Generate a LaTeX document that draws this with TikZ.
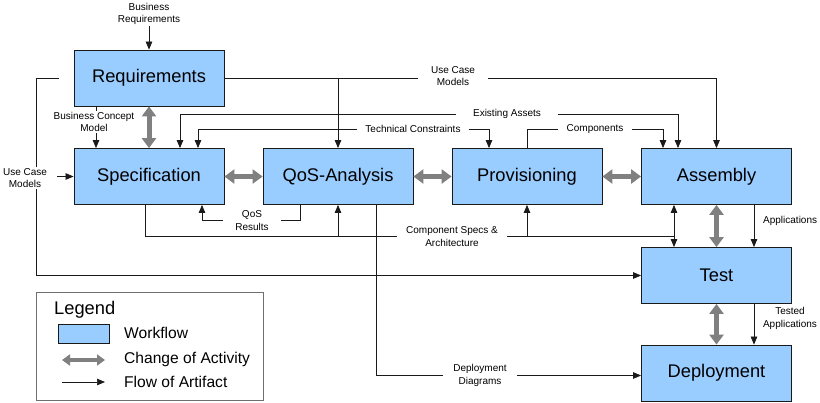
\documentclass[tikz,border=0pt]{standalone}
\usepackage{fontspec}
\setmainfont{Liberation Sans}
\usetikzlibrary{arrows.meta}
\definecolor{boxblue}{HTML}{99CCFF}
\definecolor{chg}{HTML}{808080}
\definecolor{ln}{HTML}{1A1A1A}
\definecolor{legline}{HTML}{707070}
\begin{document}
\begin{tikzpicture}[x=1pt,y=-1pt,
  wf/.style={draw=ln, fill=boxblue, line width=0.8pt, minimum width=150pt, minimum height=56pt, inner sep=0pt, font=\fontsize{18.3}{20}\selectfont},
  chgarrow/.style={draw=chg, line width=5pt, {Triangle[length=10pt,width=14pt]}-{Triangle[length=10pt,width=14pt]}},
  flow/.style={draw=ln, line width=0.7pt, -{Triangle[length=8pt,width=6.5pt]}},
  plain/.style={draw=ln, line width=0.7pt},
  lbl/.style={fill=white, inner ysep=1pt, inner xsep=10pt, align=center, font=\fontsize{10}{12.5}\selectfont},
]
\useasboundingbox (0,0) rectangle (820,402);

% workflow boxes
\node[wf] (req)  at (149,78)    {Requirements};
\node[wf] (spec) at (149,176.5) {Specification};
\node[wf] (qos)  at (338,176.5) {QoS-Analysis};
\node[wf] (prov) at (527,176.5) {Provisioning};
\node[wf] (asm)  at (716.5,176.5) {Assembly};
\node[wf] (test) at (716.5,275.5) {Test};
\node[wf] (dep)  at (716.5,373) {Deployment};

% change of activity
\draw[chgarrow] (req.south) -- (spec.north);
\draw[chgarrow] (spec.east) -- (qos.west);
\draw[chgarrow] (qos.east) -- (prov.west);
\draw[chgarrow] (prov.east) -- (asm.west);
\draw[chgarrow] (asm.south) -- (test.north);
\draw[chgarrow] (test.south) -- (dep.north);

% Business requirements
\node[lbl, fill=none, inner xsep=2pt] (breq) at (149,14) {Business\\Requirements};
\draw[flow] (breq.south) -- (req.north);

% Use case models (top)
\coordinate (ucq) at (qos.north |- req.east);
\draw[flow] (req.east) -| (asm.north);
\draw[flow] (ucq) -- (qos.north);
\node[lbl, inner xsep=13pt] (ucm) at (453,76) {Use Case\\Models};

% Use case models (left)
\coordinate (ucl) at (59,78);
\draw[flow] (ucl) -- (36,78) |- (test.west);
\node[lbl, inner xsep=1pt] (ucm2) at (25,178) {Use Case\\Models};
\coordinate (ucs) at (57,176.5);
\draw[flow] (ucs) -- (spec.west);

% Business concept model
\draw[flow] ([xshift=-53]req.south) -- ([xshift=-53]spec.north);
\node[lbl, inner xsep=1pt] (bcm) at (94,122) {Business Concept\\Model};

% Existing assets
\node[lbl, inner xsep=17pt] (eas) at (507,114) {Existing Assets};
\draw[flow] (eas.west) -| ([xshift=31]spec.north);
\draw[flow] (eas.east) -| ([xshift=-38.5]asm.north);

% Technical constraints
\node[lbl, inner xsep=8pt] (tc) at (413,129) {Technical Constraints};
\draw[flow] (tc.west) -| ([xshift=49]spec.north);
\draw[flow] (tc.east) -| ([xshift=-38]prov.north);

% Components
\node[lbl, inner xsep=8pt] (comp) at (595,129) {Components};
\draw[plain] (prov.north) |- (comp.west);
\draw[flow] (comp.east) -| ([xshift=-53.5]asm.north);

% QoS results
\node[lbl, inner xsep=12pt] (qr) at (252,220.5) {QoS\\Results};
\draw[plain] ([xshift=-38]qos.south) |- (qr.east);
\draw[flow] (qr.west) -| ([xshift=53]spec.south);

% Component specs & architecture
\node[lbl, inner xsep=9pt] (csa) at (452,236.5) {Component Specs \&\\Architecture};
\coordinate (cr) at (674,236.5);
\draw[plain] ([xshift=-4]spec.south) |- (csa.west);
\draw[plain] (csa.east) -- (cr);
\draw[flow] (cr) -- (cr |- test.north);
\draw[flow] (cr) -- (cr |- asm.south);
\draw[flow] (qos.south |- csa.west) -- (qos.south);
\draw[flow] (prov.south |- csa.east) -- (prov.south);

% Applications
\draw[flow] ([xshift=37.5]asm.south) -- ([xshift=37.5]test.north);
\node[lbl, fill=none, inner xsep=0pt, anchor=west] (app) at (763,221) {Applications};

% Tested applications
\draw[flow] ([xshift=37.5]test.south) -- ([xshift=37.5]dep.north);
\node[lbl, fill=none, inner xsep=0pt] (tapp) at (790,318.5) {Tested\\Applications};

% Deployment diagrams
\node[lbl, inner xsep=10pt] (dd) at (480,375.5) {Deployment\\Diagrams};
\draw[plain] ([xshift=38]qos.south) |- (dd.west);
\draw[flow] (dd.east) -- (dep.west |- dd.east);

% Legend
\node[draw=legline, line width=0.8pt, minimum width=227pt, minimum height=108pt, inner sep=0pt] (leg) at (149.5,346) {};
\node[anchor=west, inner sep=0pt, font=\fontsize{18.3}{20}\selectfont] (legt) at (54,310) {Legend};
\node[draw=ln, fill=boxblue, line width=0.7pt, minimum width=51pt, minimum height=19pt, inner sep=0pt] (lsw) at (83.5,333.5) {};
\coordinate (la1) at (62,360);
\coordinate (la2) at (105,360);
\draw[draw=chg, line width=4pt, {Triangle[length=8pt,width=11pt]}-{Triangle[length=8pt,width=11pt]}] (la1) -- (la2);
\coordinate (lf1) at (62,382);
\coordinate (lf2) at (105,382);
\draw[flow] (lf1) -- (lf2);
\node[anchor=west, inner sep=0pt, font=\fontsize{15.6}{18}\selectfont] (lt1) at (124,333) {Workflow};
\node[anchor=west, inner sep=0pt, font=\fontsize{15.6}{18}\selectfont] (lt2) at (124,359) {Change of Activity};
\node[anchor=west, inner sep=0pt, font=\fontsize{15.6}{18}\selectfont] (lt3) at (124,382) {Flow of Artifact};
\end{tikzpicture}
\end{document}
